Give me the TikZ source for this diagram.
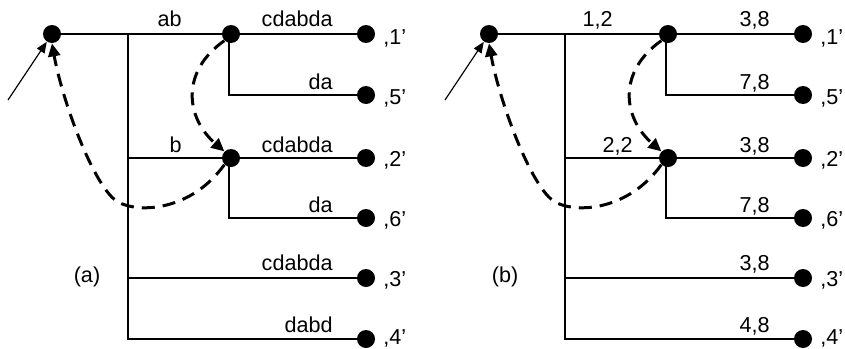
\documentclass[tikz,border=0pt]{standalone}
\usepackage{fontspec}
\setmainfont{Liberation Sans}
\usetikzlibrary{arrows.meta}
\begin{document}
\begin{tikzpicture}[x=0.5pt,y=-0.5pt,
  dot/.style={circle,fill=black,inner sep=0pt,minimum size=9pt},
  ln/.style={line width=0.7pt},
  dsh/.style={line width=1.5pt,dash pattern=on 6.5pt off 4pt,-{Triangle[length=6.5pt,width=6pt]}},
  lab/.style={font=\fontsize{10.8}{12}\selectfont,inner sep=0pt,anchor=base east},
  leaf/.style={font=\fontsize{10.8}{12}\selectfont,inner sep=0pt,anchor=base west},
  captxt/.style={font=\fontsize{10.8}{12}\selectfont,inner sep=0pt}]
\useasboundingbox (0,0) rectangle (845,348);
% ---------- panel (a)
\node[dot] (ar) at (52,34) {};
\node[dot] (am1) at (231,34) {};
\node[dot] (am2) at (231,158) {};
\node[dot] (al1) at (366,34) {};
\node[dot] (al5) at (366,95) {};
\node[dot] (al2) at (366,158) {};
\node[dot] (al6) at (366,218) {};
\node[dot] (al3) at (366,278) {};
\node[dot] (al4) at (366,339) {};
\coordinate (at0) at (128,34);
\coordinate (at2) at (128,158);
\coordinate (at3) at (128,278);
\coordinate (at4) at (128,339);
\coordinate (ak1) at (229,95);
\coordinate (ak2) at (229,218);
\coordinate (ain) at (8,100);
\draw[ln] (ar) -- (am1) -- (al1);
\draw[ln] (at0) -- (at4) -- (al4);
\draw[ln] (at2) -- (am2) -- (al2);
\draw[ln] (at3) -- (al3);
\draw[ln] (229,34) -- (ak1) -- (al5);
\draw[ln] (229,158) -- (ak2) -- (al6);
\draw[line width=0.6pt,-{Triangle[length=5.5pt,width=4.5pt]}] (ain) -- (ar);
\draw[dsh] (am1.south west) .. controls (180,72) and (186,118) .. (am2.north west);
\draw[dsh] (am2.south west) .. controls (192,210) and (140,214) .. (118,202) .. controls (94,188) and (62,100) .. (ar.south);
\node[lab] at (182,26) {ab};
\node[lab] at (333,26) {cdabda};
\node[lab] at (333,89) {da};
\node[lab] at (182,152) {b};
\node[lab] at (333,152) {cdabda};
\node[lab] at (333,212) {da};
\node[lab] at (333,270) {cdabda};
\node[lab] at (333,332) {dabd};
\node[captxt] (acap) at (87,277) {(a)};
\node[leaf] at (383,44) {,1’};
\node[leaf] at (383,104) {,5’};
\node[leaf] at (383,166) {,2’};
\node[leaf] at (383,226) {,6’};
\node[leaf] at (383,286) {,3’};
\node[leaf] at (383,344) {,4’};
% ---------- panel (b)
\begin{scope}[xshift=218.5pt]
\node[dot] (br) at (52,34) {};
\node[dot] (bm1) at (231,34) {};
\node[dot] (bm2) at (231,158) {};
\node[dot] (bl1) at (366,34) {};
\node[dot] (bl5) at (366,95) {};
\node[dot] (bl2) at (366,158) {};
\node[dot] (bl6) at (366,218) {};
\node[dot] (bl3) at (366,278) {};
\node[dot] (bl4) at (366,339) {};
\coordinate (bt0) at (128,34);
\coordinate (bt2) at (128,158);
\coordinate (bt3) at (128,278);
\coordinate (bt4) at (128,339);
\coordinate (bk1) at (229,95);
\coordinate (bk2) at (229,218);
\coordinate (bin) at (8,100);
\draw[ln] (br) -- (bm1) -- (bl1);
\draw[ln] (bt0) -- (bt4) -- (bl4);
\draw[ln] (bt2) -- (bm2) -- (bl2);
\draw[ln] (bt3) -- (bl3);
\draw[ln] (229,34) -- (bk1) -- (bl5);
\draw[ln] (229,158) -- (bk2) -- (bl6);
\draw[line width=0.6pt,-{Triangle[length=5.5pt,width=4.5pt]}] (bin) -- (br);
\draw[dsh] (bm1.south west) .. controls (180,72) and (186,118) .. (bm2.north west);
\draw[dsh] (bm2.south west) .. controls (192,210) and (140,214) .. (118,202) .. controls (94,188) and (62,100) .. (br.south);
\node[lab] at (176,26) {1,2};
\node[lab] at (333,26) {3,8};
\node[lab] at (333,89) {7,8};
\node[lab] at (196,152) {2,2};
\node[lab] at (333,152) {3,8};
\node[lab] at (333,212) {7,8};
\node[lab] at (333,270) {3,8};
\node[lab] at (333,332) {4,8};
\node[captxt] (bcap) at (68,277) {(b)};
\node[leaf] at (383,44) {,1’};
\node[leaf] at (383,104) {,5’};
\node[leaf] at (383,166) {,2’};
\node[leaf] at (383,226) {,6’};
\node[leaf] at (383,286) {,3’};
\node[leaf] at (383,344) {,4’};
\end{scope}
\end{tikzpicture}
\end{document}
